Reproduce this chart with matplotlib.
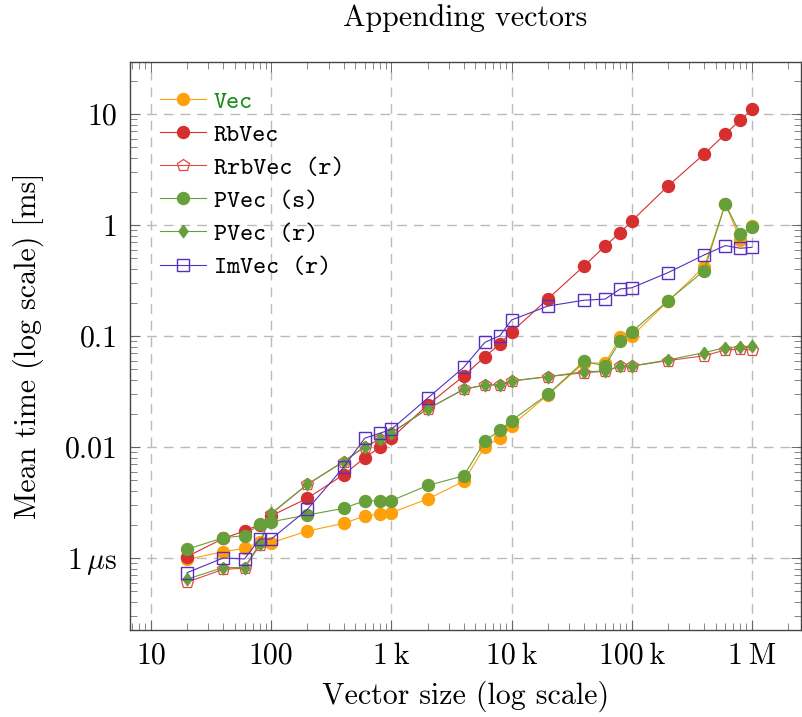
import numpy as np
import matplotlib
matplotlib.use("Agg")
import matplotlib.pyplot as plt
from matplotlib.ticker import LogLocator, NullFormatter

# ---- data -------------------------------------------------------------
sizes = [20, 40, 60, 80, 100, 200, 400, 600, 800, 1000,
         2000, 4000, 6000, 8000, 10000, 20000, 40000, 60000, 80000, 100000,
         200000, 400000, 600000, 800000, 1000000]

vec = [0.00097, 0.00114, 0.00122, 0.00138, 0.00137, 0.00175, 0.00205, 0.00239, 0.00249, 0.00256,
       0.0034, 0.0049, 0.0101, 0.0121, 0.0156, 0.0295, 0.057, 0.057, 0.097, 0.100,
       0.205, 0.42, 1.55, 0.73, 0.97]

rbvec = [0.00103, 0.0015, 0.00175, 0.0020, 0.0024, 0.00345, 0.00563, 0.0080, 0.0099, 0.0120,
         0.0239, 0.0436, 0.0652, 0.0848, 0.1087, 0.2155, 0.427, 0.647, 0.853, 1.087,
         2.245, 4.36, 6.6, 8.83, 11.0]

rrbvec_r = [0.000607, 0.00079, 0.00081, 0.0013, 0.0025, 0.0046, 0.0074, 0.0100, 0.0117, 0.0134,
            0.022, 0.0331, 0.0362, 0.0362, 0.0393, 0.043, 0.0467, 0.048, 0.0535, 0.0535,
            0.060, 0.0663, 0.0748, 0.0760, 0.0748]

pvec_s = [0.0012, 0.00152, 0.00159, 0.00202, 0.00212, 0.00244, 0.0028, 0.00328, 0.00328, 0.00328,
          0.0045, 0.0055, 0.0113, 0.0142, 0.0173, 0.0298, 0.059, 0.054, 0.090, 0.109,
          0.208, 0.387, 1.55, 0.824, 0.966]

pvec_r = [0.000646, 0.00082, 0.00082, 0.00134, 0.00252, 0.00461, 0.00738, 0.0101, 0.0117, 0.01345,
          0.022, 0.0331, 0.0362, 0.0365, 0.0393, 0.043, 0.0477, 0.0483, 0.0537, 0.0537,
          0.0608, 0.0708, 0.0785, 0.0800, 0.0813]

imvec_r = [0.000738, 0.0010, 0.00098, 0.00148, 0.00148, 0.00274, 0.00656, 0.0120, 0.0133, 0.0144,
           0.0275, 0.0522, 0.0877, 0.1006, 0.1394, 0.186, 0.210, 0.215, 0.265, 0.272,
           0.372, 0.537, 0.652, 0.617, 0.629]

series_labels = ["Vec", "RbVec", "RrbVec (r)", "PVec (s)", "PVec (r)", "ImVec (r)"]

xtick_values = [10, 100, 1000, 10000, 100000, 1000000]
xtick_labels = ["10", "100", "1\u2009k", "10\u2009k", "100\u2009k", "1\u2009M"]
ytick_values = [0.001, 0.01, 0.1, 1, 10]
ytick_labels = [r"$1\,\mu\mathrm{s}$", "0.01", "0.1", "1", "10"]

# ---- style ------------------------------------------------------------
plt.rcParams["font.family"] = ["cmr10", "DejaVu Serif"]
plt.rcParams["mathtext.fontset"] = "cm"
plt.rcParams["axes.formatter.use_mathtext"] = True
plt.rcParams["axes.unicode_minus"] = False

FS = 21.5
ORANGE = "#FF9F0A"
RED = "#D62F2F"
PINK = "#E04848"
GREEN = "#67A03A"
PURPLE = "#5430BC"

# a slightly wide diamond, like pgfplots' diamond*
DIAMOND = [(0, 1), (0.72, 0), (0, -1), (-0.72, 0), (0, 1)]

fig = plt.figure(figsize=(8.02, 7.17), dpi=100)
ax = fig.add_axes([130 / 802, 87 / 717, 671 / 802, 568 / 717])

lw = 0.8
ax.plot(sizes, vec, color=ORANGE, lw=lw, marker="o", ms=8.6, mec=ORANGE, mfc=ORANGE,
        label=series_labels[0])
ax.plot(sizes, rbvec, color=RED, lw=lw, marker="o", ms=8.6, mec=RED, mfc=RED,
        label=series_labels[1])
ax.plot(sizes, rrbvec_r, color=PINK, lw=lw, marker="p", ms=9.0, mec=PINK, mfc="none",
        mew=0.9, label=series_labels[2])
ax.plot(sizes, pvec_s, color=GREEN, lw=lw, marker="o", ms=8.6, mec=GREEN, mfc=GREEN,
        label=series_labels[3])
ax.plot(sizes, pvec_r, color=GREEN, lw=lw, marker=DIAMOND, ms=9.0, mec=GREEN, mfc=GREEN,
        label=series_labels[4])
ax.plot(sizes, imvec_r, color=PURPLE, lw=lw, marker="s", ms=8.0, mec=PURPLE, mfc="none",
        mew=1.0, label=series_labels[5])

ax.set_xscale("log")
ax.set_yscale("log")
ax.set_xlim(6.69, 2.557e6)
ax.set_ylim(2.245e-4, 29.4)

ax.set_xticks(xtick_values, xtick_labels)
ax.set_yticks(ytick_values, ytick_labels)
ax.xaxis.set_minor_locator(LogLocator(base=10, subs=np.arange(2, 10), numticks=20))
ax.yaxis.set_minor_locator(LogLocator(base=10, subs=np.arange(2, 10), numticks=20))
ax.xaxis.set_minor_formatter(NullFormatter())
ax.yaxis.set_minor_formatter(NullFormatter())

ax.tick_params(which="both", direction="in", top=True, right=True, color="#555555")
ax.tick_params(which="major", length=7, width=0.6, labelsize=FS, pad=9)
ax.tick_params(which="minor", length=5, width=0.5)
for s in ax.spines.values():
    s.set_color("#444444")
    s.set_linewidth(1.0)

ax.grid(True, which="major", color="#BBBBBB", lw=1.0, ls=(0, (7, 5)))
ax.set_axisbelow(True)

ax.set_xlabel("Vector size (log scale)", fontsize=FS, labelpad=8)
ax.set_ylabel("Mean time (log scale) [ms]", fontsize=FS, labelpad=15)
ax.set_title("Appending vectors", fontsize=FS, pad=26)

leg = ax.legend(loc="upper left", bbox_to_anchor=(0.045, 0.95), frameon=False,
                prop={"family": ["cmtt10", "DejaVu Sans Mono"], "size": 17.9},
                handlelength=1.85, handletextpad=0.3, labelspacing=0.39,
                borderaxespad=0, borderpad=0)
leg.get_texts()[0].set_color("#178A17")

fig.savefig("out.png", dpi=100)
